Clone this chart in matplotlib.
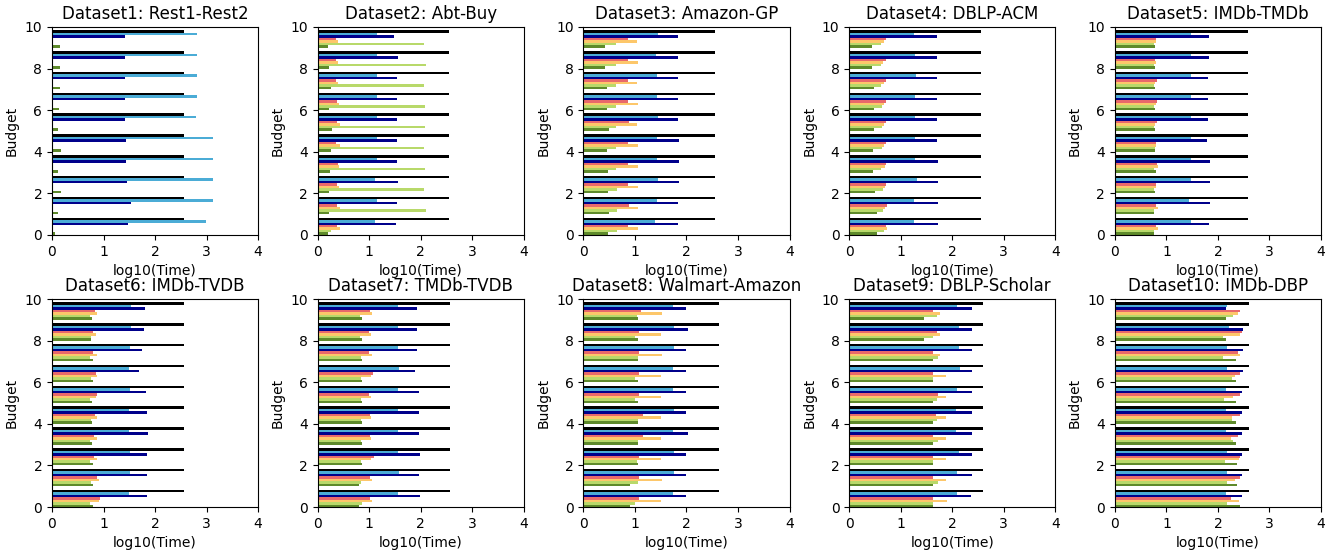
import numpy as np
import matplotlib
matplotlib.use("Agg")
import matplotlib.pyplot as plt

# --- Données : log10(Time) par budget (0..9), une liste par méthode ---
budgets = list(range(10))

titles = ["Dataset1: Rest1-Rest2", "Dataset2: Abt-Buy", "Dataset3: Amazon-GP",
          "Dataset4: DBLP-ACM", "Dataset5: IMDb-TMDb", "Dataset6: IMDb-TVDB",
          "Dataset7: TMDb-TVDB", "Dataset8: Walmart-Amazon", "Dataset9: DBLP-Scholar",
          "Dataset10: IMDb-DBP"]

# ordre de bas en haut dans chaque groupe
darkgreen = [
    [0.05, 0.11, 0.18, 0.12, 0.17, 0.11, 0.13, 0.15, 0.15, 0.15],
    [0.20, 0.22, 0.22, 0.24, 0.26, 0.28, 0.22, 0.26, 0.22, 0.20],
    [0.48, 0.49, 0.47, 0.47, 0.46, 0.49, 0.45, 0.45, 0.42, 0.42],
    [0.55, 0.55, 0.51, 0.47, 0.47, 0.49, 0.49, 0.49, 0.45, 0.44],
    [0.75, 0.75, 0.78, 0.80, 0.78, 0.78, 0.78, 0.78, 0.78, 0.78],
    [0.79, 0.80, 0.80, 0.78, 0.78, 0.78, 0.80, 0.80, 0.76, 0.78],
    [0.80, 0.80, 0.85, 0.85, 0.85, 0.86, 0.86, 0.86, 0.86, 0.86],
    [0.90, 0.90, 1.06, 1.06, 1.05, 1.05, 1.05, 1.05, 1.06, 1.05],
    [1.63, 1.63, 1.63, 1.63, 1.63, 1.63, 1.63, 1.62, 1.45, 1.45],
    [2.42, 2.37, 2.37, 2.35, 2.35, 2.35, 2.35, 2.35, 2.15, 2.15],
]
yellowgreen = [
    [0, 0, 0, 0, 0, 0, 0, 0, 0, 0],
    [0.26, 2.10, 2.07, 2.09, 2.07, 2.09, 2.09, 2.07, 2.10, 2.07],
    [0.65, 0.65, 0.65, 0.64, 0.63, 0.63, 0.63, 0.63, 0.63, 0.63],
    [0.67, 0.66, 0.66, 0.62, 0.64, 0.63, 0.63, 0.61, 0.61, 0.62],
    [0.76, 0.75, 0.76, 0.76, 0.78, 0.75, 0.76, 0.76, 0.76, 0.75],
    [0.73, 0.76, 0.73, 0.73, 0.75, 0.73, 0.76, 0.73, 0.76, 0.73],
    [0.86, 0.84, 0.84, 0.84, 0.84, 0.84, 0.84, 0.84, 0.82, 0.82],
    [1.00, 1.06, 1.03, 1.05, 1.06, 1.00, 1.00, 1.05, 1.00, 1.03],
    [1.62, 1.73, 1.63, 1.73, 1.71, 1.71, 1.62, 1.73, 1.62, 1.71],
    [2.18, 2.18, 2.13, 2.30, 2.27, 2.12, 2.27, 2.10, 2.10, 2.30],
]
orange = [
    [0, 0, 0, 0, 0, 0, 0, 0, 0, 0],
    [0.44, 0.44, 0.42, 0.42, 0.44, 0.44, 0.42, 0.40, 0.40, 0.40],
    [1.05, 1.05, 1.05, 1.05, 1.05, 1.03, 1.05, 1.03, 1.05, 1.03],
    [0.74, 0.70, 0.70, 0.70, 0.68, 0.68, 0.68, 0.68, 0.66, 0.68],
    [0.84, 0.84, 0.80, 0.84, 0.80, 0.78, 0.80, 0.78, 0.79, 0.80],
    [0.91, 0.91, 0.88, 0.88, 0.87, 0.86, 0.88, 0.88, 0.85, 0.87],
    [1.05, 1.05, 1.03, 1.03, 1.03, 1.03, 1.03, 1.05, 1.03, 1.05],
    [1.51, 1.53, 1.51, 1.51, 1.51, 1.51, 1.51, 1.53, 1.51, 1.53],
    [1.90, 1.88, 1.88, 1.88, 1.88, 1.88, 1.87, 1.76, 1.76, 1.76],
    [2.40, 2.33, 2.40, 2.25, 2.27, 2.30, 2.33, 2.43, 2.43, 2.38],
]
red = [
    [0, 0, 0, 0, 0, 0, 0, 0, 0, 0],
    [0.37, 0.38, 0.38, 0.39, 0.36, 0.37, 0.38, 0.36, 0.36, 0.36],
    [0.87, 0.88, 0.87, 0.87, 0.87, 0.88, 0.87, 0.87, 0.87, 0.87],
    [0.72, 0.74, 0.72, 0.72, 0.71, 0.72, 0.71, 0.71, 0.71, 0.71],
    [0.80, 0.80, 0.80, 0.82, 0.80, 0.82, 0.81, 0.82, 0.78, 0.80],
    [0.94, 0.88, 0.81, 0.81, 0.84, 0.88, 0.85, 0.79, 0.79, 0.84],
    [1.02, 1.02, 1.09, 1.02, 1.02, 1.00, 1.07, 1.00, 1.00, 1.02],
    [1.08, 1.08, 1.08, 1.15, 1.15, 1.08, 1.08, 1.07, 1.07, 1.12],
    [1.62, 1.62, 1.62, 1.62, 1.69, 1.72, 1.62, 1.62, 1.70, 1.62],
    [2.25, 2.43, 2.42, 2.38, 2.43, 2.42, 2.42, 2.38, 2.46, 2.43],
]
navy = [
    [1.48, 1.53, 1.45, 1.44, 1.44, 1.42, 1.42, 1.42, 1.42, 1.42],
    [1.52, 1.54, 1.55, 1.54, 1.54, 1.54, 1.54, 1.54, 1.55, 1.49],
    [1.84, 1.83, 1.85, 1.85, 1.85, 1.83, 1.83, 1.83, 1.83, 1.83],
    [1.73, 1.73, 1.73, 1.73, 1.70, 1.70, 1.70, 1.70, 1.71, 1.71],
    [1.83, 1.85, 1.85, 1.85, 1.78, 1.80, 1.80, 1.80, 1.82, 1.82],
    [1.84, 1.84, 1.84, 1.87, 1.85, 1.82, 1.68, 1.74, 1.79, 1.80],
    [1.99, 1.97, 1.99, 1.97, 1.97, 1.97, 1.89, 1.92, 1.93, 1.92],
    [2.00, 2.00, 2.00, 2.02, 2.00, 2.00, 2.00, 2.00, 2.02, 2.00],
    [2.37, 2.38, 2.38, 2.38, 2.38, 2.38, 2.38, 2.38, 2.38, 2.38],
    [2.47, 2.47, 2.47, 2.47, 2.47, 2.47, 2.49, 2.49, 2.49, 2.15],
]
skyblue = [
    [2.98, 3.12, 3.12, 3.12, 3.12, 2.79, 2.81, 2.81, 2.81, 2.81],
    [1.12, 1.15, 1.12, 1.15, 1.15, 1.15, 1.15, 1.15, 1.15, 1.15],
    [1.39, 1.43, 1.45, 1.43, 1.43, 1.45, 1.43, 1.43, 1.41, 1.45],
    [1.26, 1.26, 1.31, 1.27, 1.27, 1.27, 1.27, 1.29, 1.27, 1.26],
    [1.47, 1.44, 1.47, 1.47, 1.48, 1.48, 1.48, 1.47, 1.48, 1.48],
    [1.50, 1.52, 1.52, 1.50, 1.50, 1.52, 1.50, 1.52, 1.53, 1.53],
    [1.55, 1.58, 1.55, 1.55, 1.55, 1.55, 1.58, 1.55, 1.55, 1.55],
    [1.73, 1.75, 1.75, 1.73, 1.75, 1.73, 1.73, 1.75, 1.75, 1.73],
    [2.10, 2.10, 2.13, 2.08, 2.08, 2.10, 2.15, 2.13, 2.13, 2.10],
    [2.15, 2.18, 2.18, 2.15, 2.15, 2.15, 2.17, 2.17, 2.22, 2.17],
]
black = [
    [2.57] * 10, [2.55] * 10, [2.55] * 10, [2.56] * 10, [2.58] * 10,
    [2.57] * 10, [2.57] * 10, [2.63] * 10, [2.59] * 10, [2.60] * 10,
]

series = [darkgreen, yellowgreen, orange, red, navy, skyblue, black]
colors = ["#5e8a2b", "#b8d96a", "#fdc76a", "#e8696b", "#00008b", "#4bacd6", "#000000"]

# --- Figure ---
fig, axes = plt.subplots(2, 5, figsize=(13.33, 5.5), dpi=100)
plt.subplots_adjust(left=0.039, right=0.991, top=0.951, bottom=0.078,
                    wspace=0.289, hspace=0.308)

bar_h = 0.12
y = np.array(budgets, dtype=float)

for d, ax in enumerate(axes.flat):
    for k, (s, c) in enumerate(zip(series, colors)):
        ax.barh(y + k * bar_h, s[d], height=bar_h, align="edge", color=c)
    ax.set_xlim(0, 4)
    ax.set_ylim(0, 10)
    ax.set_xticks([0, 1, 2, 3, 4])
    ax.set_yticks([0, 2, 4, 6, 8, 10])
    ax.set_title(titles[d], fontsize=12)
    ax.set_xlabel("log10(Time)")
    ax.set_ylabel("Budget")

plt.savefig("out.png", dpi=100)
